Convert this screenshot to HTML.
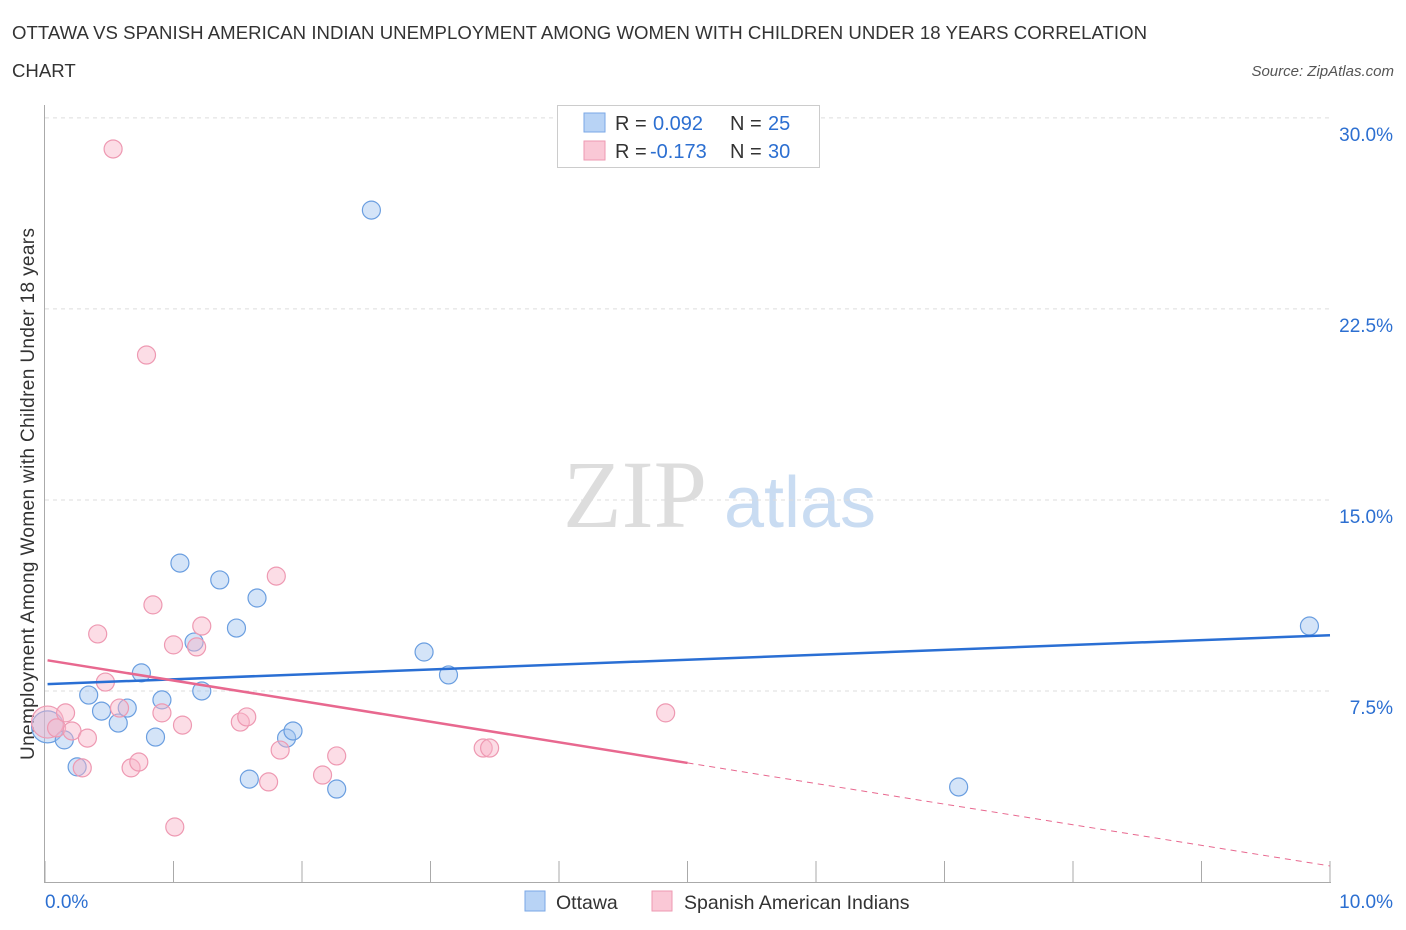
<!DOCTYPE html>
<html><head><meta charset="utf-8">
<style>
body{margin:0;background:#fff;font-family:"Liberation Sans",sans-serif;}
svg{display:block}
</style></head>
<body>
<svg id="chart" width="1406" height="930">
<text x="12" y="39" font-size="18.6" fill="#333" textLength="1135">OTTAWA VS SPANISH AMERICAN INDIAN UNEMPLOYMENT AMONG WOMEN WITH CHILDREN UNDER 18 YEARS CORRELATION</text>
<text x="12" y="77" font-size="18.6" fill="#333">CHART</text>
<text x="1394" y="76" font-size="15" fill="#555" font-style="italic" text-anchor="end">Source: ZipAtlas.com</text>
<text x="34" y="494" font-size="19" fill="#333" text-anchor="middle" textLength="532" transform="rotate(-90 34 494)">Unemployment Among Women with Children Under 18 years</text>
<g>
<text x="635" y="527" font-size="96" fill="#ddd" font-family="Liberation Serif" text-anchor="middle">ZIP</text>
<text x="800" y="527" font-size="72" fill="#c9dcf2" text-anchor="middle">atlas</text>
</g>
<g id="grid"></g>
<g id="axes"></g>
<g id="marks"></g>
<g>
<rect x="557.5" y="105.5" width="262" height="62" fill="#fff" stroke="#ccc"/>
<rect x="584" y="113" width="21" height="19" fill="#b8d3f5" stroke="#7aa7e6"/>
<rect x="584" y="141" width="21" height="19" fill="#fac8d6" stroke="#ee99b2"/>
<text x="615" y="130" font-size="20" fill="#333">R = </text><text x="653" y="130" font-size="20" fill="#2c6fd1">0.092</text>
<text x="730" y="130" font-size="20" fill="#333">N = </text><text x="768" y="130" font-size="20" fill="#2c6fd1">25</text>
<text x="615" y="158" font-size="20" fill="#333">R = </text><text x="650" y="158" font-size="20" fill="#2c6fd1">-0.173</text>
<text x="730" y="158" font-size="20" fill="#333">N = </text><text x="768" y="158" font-size="20" fill="#2c6fd1">30</text>
</g>
<g>
<rect x="525" y="891" width="20" height="20" fill="#b8d3f5" stroke="#7aa7e6"/>
<text x="556" y="909" font-size="19.5" fill="#333">Ottawa</text>
<rect x="652" y="891" width="20" height="20" fill="#fac8d6" stroke="#ee99b2"/>
<text x="684" y="909" font-size="19.5" fill="#333">Spanish American Indians</text>
</g>
</svg>
<script>
const ottawaX=[0.02,0.15,0.25,0.34,0.44,0.57,0.64,0.75,0.86,0.91,1.05,1.16,1.22,1.36,1.49,1.59,1.65,1.88,1.93,2.27,2.54,2.95,3.14,7.11,9.84];
const ottawaY=[6.09,5.58,4.52,7.34,6.71,6.24,6.83,8.21,5.69,7.15,12.52,9.42,7.50,11.86,9.97,4.04,11.15,5.65,5.93,3.65,26.38,9.03,8.13,3.73,10.05];
const spanX=[0.53,0.79,0.02,0.09,0.16,0.21,0.29,0.33,0.41,0.47,0.58,0.67,0.73,0.84,0.91,1.01,1.00,1.07,1.18,1.22,1.52,1.57,1.80,1.83,2.16,2.27,3.41,3.46,4.83,1.74];
const spanY=[28.78,20.69,6.28,6.05,6.64,5.93,4.48,5.65,9.74,7.85,6.83,4.48,4.71,10.88,6.64,2.16,9.31,6.16,9.23,10.05,6.28,6.48,12.01,5.18,4.20,4.95,5.26,5.26,6.64,3.93];
const ottawaTrend=[7.77,9.69];
const spanTrend=[8.72,0.63];
const spanSolidEnd=5.0;
const yTicks=[7.5,15,22.5,30];
const yTickLabels=["7.5%","15.0%","22.5%","30.0%"];
const xTicks=[0,1,2,3,4,5,6,7,8,9,10];
const NS="http://www.w3.org/2000/svg";
const X=v=>45+v*128.5, Y=v=>882-v*25.47;
function mk(tag,attrs,parent){const e=document.createElementNS(NS,tag);for(const k in attrs)e.setAttribute(k,attrs[k]);parent.appendChild(e);return e;}
const grid=document.getElementById('grid'),axes=document.getElementById('axes'),marks=document.getElementById('marks');
yTicks.forEach((t,i)=>{
 const l=mk('line',{x1:45,x2:1330,y1:Y(t),y2:Y(t),stroke:'#ddd','stroke-dasharray':'4 4'},grid);
 
 
 const tx=mk('text',{x:1393,y:Y(t)+23,'font-size':19,fill:'#2c6fd1','text-anchor':'end'},grid);
 tx.textContent=yTickLabels[i];
 
 
});
const ax=mk('line',{x1:44.5,x2:44.5,y1:105,y2:883,stroke:'#aaa'},axes);


const bx=mk('line',{x1:44,x2:1331,y1:882.5,y2:882.5,stroke:'#aaa'},axes);


xTicks.forEach(t=>{
 const l=mk('line',{x1:X(t),x2:X(t),y1:861,y2:882,stroke:'#aaa'},axes);
 
 
});
const x0=mk('text',{x:45,y:908,'font-size':19,fill:'#2c6fd1'},axes);x0.textContent='0.0%';


const x1=mk('text',{x:1393,y:908,'font-size':19,fill:'#2c6fd1','text-anchor':'end'},axes);x1.textContent='10.0%';


ottawaX.forEach((v,i)=>{
 const c=mk('circle',{cx:X(v),cy:Y(ottawaY[i]),r:i==0?16:9,fill:'rgba(160,196,240,0.45)',stroke:'#6a9ee0','stroke-width':1.2},marks);
 
 
});
spanX.forEach((v,i)=>{
 const c=mk('circle',{cx:X(v),cy:Y(spanY[i]),r:i==2?16:9,fill:'rgba(248,180,200,0.45)',stroke:'#ee99b2','stroke-width':1.2},marks);
 
 
});
const bt=mk('line',{x1:X(0.02),y1:Y(ottawaTrend[0]),x2:X(10),y2:Y(ottawaTrend[1]),stroke:'#2a6fd4','stroke-width':2.5},marks);


const sAt=x=>spanTrend[0]+(spanTrend[1]-spanTrend[0])*x/10;
const pt=mk('line',{x1:X(0.02),y1:Y(sAt(0.02)),x2:X(spanSolidEnd),y2:Y(sAt(spanSolidEnd)),stroke:'#e8688f','stroke-width':2.5},marks);


const pd=mk('line',{x1:X(spanSolidEnd),y1:Y(sAt(spanSolidEnd)),x2:X(10),y2:Y(spanTrend[1]),stroke:'#e8688f','stroke-width':1,'stroke-dasharray':'6 5'},marks);


</script>
</body></html>
